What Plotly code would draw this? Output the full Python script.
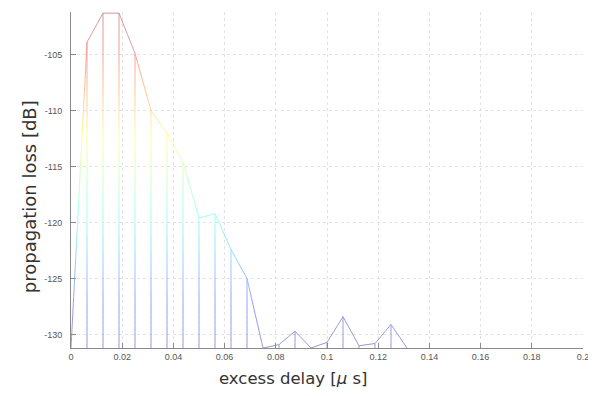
import plotly.graph_objects as go

# ---- data ----
sample_step_us = 0.00625
delay_us = [round(k * sample_step_us, 5) for k in range(22)]
loss_db = [-131.2, -103.9, -101.3, -101.3, -104.9, -110.0, -112.0, -114.6,
           -119.6, -119.2, -122.4, -125.0, -131.2, -130.9, -129.7, -131.2,
           -130.7, -128.4, -131.0, -130.8, -129.1, -131.2]

x_ticks = [0, 0.02, 0.04, 0.06, 0.08, 0.1, 0.12, 0.14, 0.16, 0.18, 0.2]
x_tick_text = ["0", "0.02", "0.04", "0.06", "0.08", "0.1", "0.12", "0.14", "0.16", "0.18", "0.2"]
y_ticks = [-130, -125, -120, -115, -110, -105]
y_tick_text = ["-130", "-125", "-120", "-115", "-110", "-105"]

Y_MIN, Y_MAX = -131.2, -101.2
X_MIN, X_MAX = 0, 0.2


def jet(t):
    def c(v):
        return max(0.0, min(1.0, v))
    return (c(1.5 - abs(4 * t - 3)), c(1.5 - abs(4 * t - 2)), c(1.5 - abs(4 * t - 1)))


def pale(t, w=0.6):
    r, g, b = jet(t)
    return "rgb(%d,%d,%d)" % tuple(int(255 * (w + (1 - w) * v)) for v in (r, g, b))


fig = go.Figure()

# colour bands: each band draws the parts of stems and curve that lie inside it
n_bands = 60
band_h = (Y_MAX - Y_MIN) / n_bands
for i in range(n_bands):
    lo = Y_MIN + i * band_h
    hi = lo + band_h
    xs, ys = [], []
    # stems
    for x, v in zip(delay_us, loss_db):
        a, b = max(lo, Y_MIN), min(hi, v)
        if b > a:
            xs += [x, x, None]
            ys += [a, b, None]
    # curve
    for j in range(len(delay_us) - 1):
        x0, y0, x1, y1 = delay_us[j], loss_db[j], delay_us[j + 1], loss_db[j + 1]
        if y0 == y1:
            if lo <= y0 < hi:
                xs += [x0, x1, None]
                ys += [y0, y1, None]
            continue
        t_lo = (lo - y0) / (y1 - y0)
        t_hi = (hi - y0) / (y1 - y0)
        ta, tb = max(0.0, min(t_lo, t_hi)), min(1.0, max(t_lo, t_hi))
        if tb > ta:
            xs += [x0 + ta * (x1 - x0), x0 + tb * (x1 - x0), None]
            ys += [y0 + ta * (y1 - y0), y0 + tb * (y1 - y0), None]
    if xs:
        fig.add_trace(go.Scatter(
            x=xs, y=ys, mode="lines",
            line=dict(color=pale((i + 0.5) / n_bands), width=1),
            hoverinfo="skip", showlegend=False))

axis_common = dict(
    showline=True, linecolor="#8a8a8a", linewidth=1,
    ticks="inside", ticklen=5, tickcolor="#8a8a8a",
    showgrid=True, gridcolor="#e2e2e2", griddash="3px,3px", gridwidth=1,
    zeroline=False, tickfont=dict(family="Liberation Sans, Arial", size=9, color="#555555"),
)

# the page adds an 8 px body margin, so the figure is 8 px smaller and shifted
fig.update_layout(
    width=588, height=388,
    margin=dict(l=63, r=13, t=4, b=48),
    plot_bgcolor="white", paper_bgcolor="white",
    xaxis=dict(range=[X_MIN, X_MAX], tickvals=x_ticks, ticktext=x_tick_text, **axis_common),
    yaxis=dict(range=[Y_MIN, Y_MAX], tickvals=y_ticks, ticktext=y_tick_text,
               ticklabelstandoff=6, **axis_common),
    annotations=[
        dict(text="excess delay [<i>µ</i> s]", xref="paper", yref="paper",
             x=0.4336, y=-0.0893, xanchor="center", yanchor="middle", showarrow=False,
             font=dict(family="DejaVu Sans", size=16.5, color="#333333")),
        dict(text="propagation loss [dB]", xref="paper", yref="paper",
             x=-0.082, y=0.449, xanchor="center", yanchor="middle", showarrow=False,
             textangle=-90,
             font=dict(family="DejaVu Sans", size=18, color="#333333")),
    ],
)

fig.write_html("out.html")
